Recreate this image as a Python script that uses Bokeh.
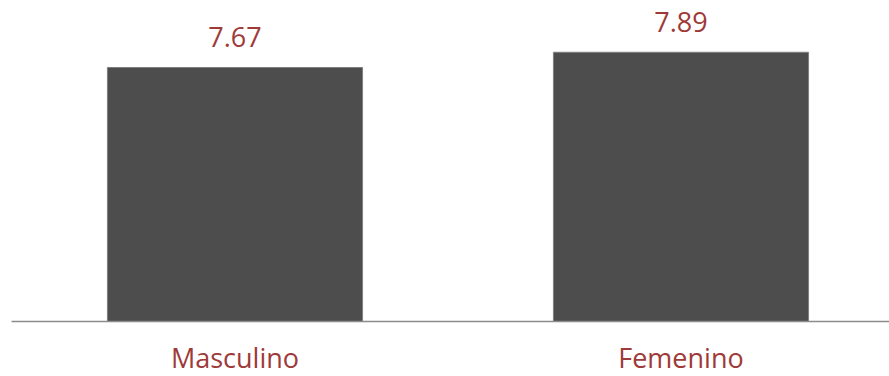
from bokeh.plotting import figure
from bokeh.models import ColumnDataSource, LabelSet, Range1d, LinearAxis, FixedTicker
from bokeh.core.properties import value
from bokeh.embed import file_html
from bokeh.resources import INLINE

categories = ["Masculino", "Femenino"]
values = [7.67, 7.89]
y_min = 4

xs = [i + 0.5 for i in range(len(categories))]
src = ColumnDataSource(dict(x=xs, top=values, label=[f"{v:.2f}" for v in values]))

p = figure(frame_width=878, frame_height=321, output_backend="svg", toolbar_location=None,
           x_range=Range1d(-0.0011, 1.9675), y_range=Range1d(y_min, 8.638),
           min_border_left=11, min_border_right=0, min_border_top=0, min_border_bottom=55,
           x_axis_location=None, y_axis_location=None)
p.outline_line_color = None
p.xgrid.visible = False
p.ygrid.visible = False
p.background_fill_color = "white"
p.border_fill_color = "white"

p.vbar(x="x", top="top", bottom=y_min, width=0.572, source=src,
       fill_color="#4d4d4d", line_color="#7f7f7f", line_width=1)

red = "#9e3a38"
labels = LabelSet(x="x", y="top", text="label", source=src, y_offset=20,
                  text_align="center", text_baseline="alphabetic",
                  text_font=value("Open Sans"), text_font_size=value("27px"), text_color=value(red))
p.add_layout(labels)

ax = LinearAxis(ticker=FixedTicker(ticks=xs),
                major_label_overrides={x: c for x, c in zip(xs, categories)})
ax.axis_line_color = "#8c8c8c"
ax.axis_line_width = 1.5
ax.major_tick_line_color = None
ax.minor_tick_line_color = None
ax.major_label_text_font = "Open Sans"
ax.major_label_text_font_size = "27px"
ax.major_label_text_color = red
ax.major_label_standoff = 11
p.add_layout(ax, "below")

open("out.html", "w").write(file_html(p, INLINE))
